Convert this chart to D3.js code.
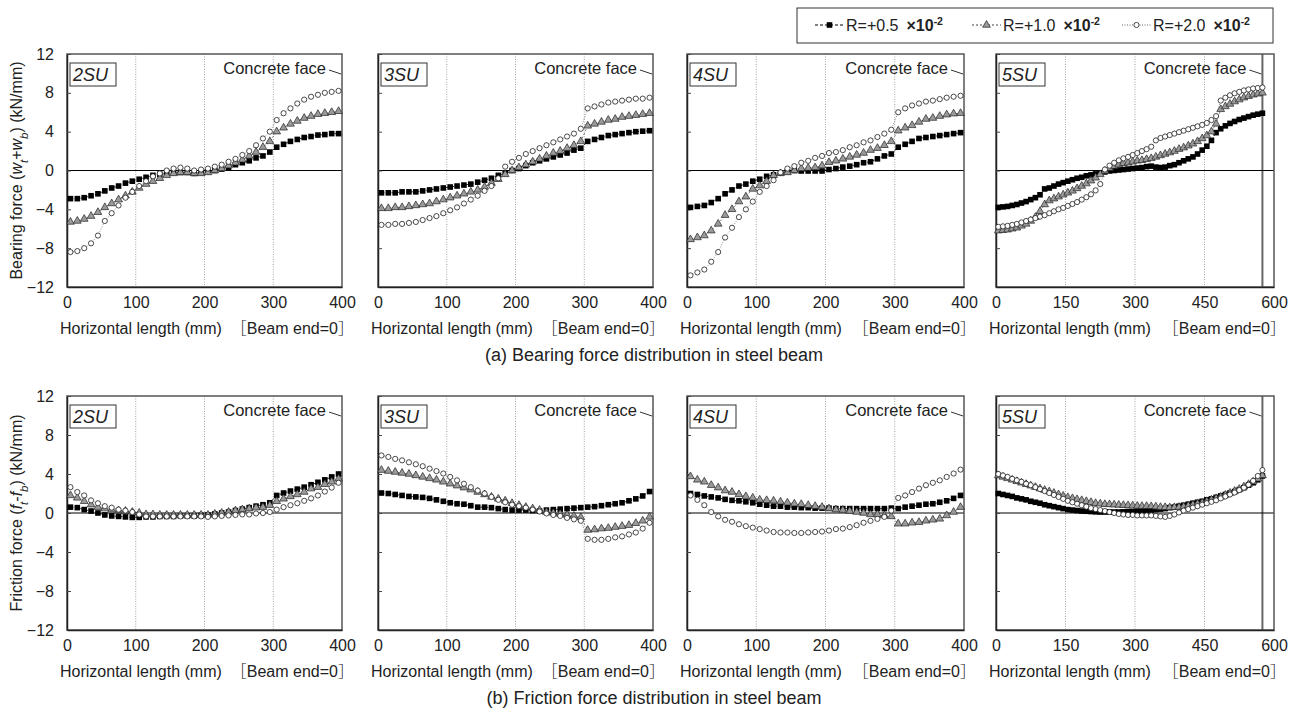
<!DOCTYPE html>
<html>
<head>
<meta charset="utf-8">
<script src="https://cdn.jsdelivr.net/npm/d3@7"></script>
<style>
  body { margin: 0; background: #fff; }
  svg { display: block; font-family: "Liberation Sans", Arial, sans-serif; }
</style>
</head>
<body>
<svg id="chart"></svg>
<script>
// ---- data ----
const X400 = [5,15,25,35,45,55,65,75,85,95,105,115,125,135,145,155,165,175,185,195,
  205,215,225,235,245,255,265,275,285,295,305,315,325,335,345,355,365,375,385,395];
const X600 = [5,15,25,35,45,55,65,75,85,95,105,115,125,135,145,155,165,175,185,195,
  205,215,225,235,245,255,265,275,285,295,305,315,325,335,345,355,365,375,385,395,
  405,415,425,435,445,455,465,475,485,495,505,515,525,535,545,555,565,575];

const SPECIMENS = ["2SU", "3SU", "4SU", "5SU"];
const SERIES_NAMES = ["R=+0.5", "R=+1.0", "R=+2.0"];
const TICKS_400 = [0, 100, 200, 300, 400];
const TICKS_600 = [0, 150, 300, 450, 600];
const Y_TICKS = [-12, -8, -4, 0, 4, 8, 12];

// (a) bearing force
const bear2SU_r05 = [-2.9,-2.9,-2.8,-2.6,-2.4,-2.1,-1.8,-1.6,-1.3,-1.1,-0.9,-0.7,-0.5,-0.4,-0.3,-0.2,-0.2,-0.2,-0.3,-0.2,
  -0.1,0,0.15,0.3,0.6,0.8,1.0,1.3,1.5,1.9,2.4,2.7,3.0,3.2,3.4,3.5,3.65,3.7,3.8,3.8];
const bear2SU_r10 = [-5.3,-5.2,-5.0,-4.7,-4.3,-3.8,-3.4,-3.0,-2.6,-2.2,-1.8,-1.4,-1.1,-0.8,-0.5,-0.3,-0.2,-0.2,-0.3,-0.3,
  -0.2,0,0.2,0.5,0.8,1.1,1.5,1.9,2.4,3.0,4.0,4.4,4.8,5.1,5.4,5.6,5.8,5.9,6.0,6.1];
const bear2SU_r20 = [-8.4,-8.3,-8.0,-7.5,-6.7,-5.2,-4.4,-3.6,-2.8,-2.2,-1.6,-1.1,-0.6,-0.3,0.0,0.2,0.3,0.2,0.0,0.1,
  0.2,0.4,0.6,0.9,1.2,1.6,2.0,2.6,3.3,4.0,5.2,5.9,6.4,6.9,7.3,7.6,7.8,8.0,8.1,8.2];
const bear3SU_r05 = [-2.3,-2.3,-2.3,-2.2,-2.2,-2.2,-2.1,-2.0,-1.9,-1.8,-1.7,-1.6,-1.5,-1.4,-1.2,-1.0,-0.8,-0.5,-0.3,0.0,
  0.2,0.5,0.8,1.0,1.2,1.4,1.6,1.8,2.1,2.3,3.0,3.2,3.4,3.6,3.7,3.8,3.9,4.0,4.05,4.1];
const bear3SU_r10 = [-3.9,-3.9,-3.8,-3.8,-3.7,-3.6,-3.5,-3.4,-3.2,-3.0,-2.8,-2.6,-2.4,-2.2,-2.0,-1.7,-1.3,-0.9,-0.4,0.0,
  0.3,0.6,0.9,1.2,1.5,1.8,2.0,2.3,2.6,3.0,4.6,4.8,5.0,5.2,5.3,5.5,5.6,5.7,5.8,5.9];
const bear3SU_r20 = [-5.6,-5.6,-5.5,-5.5,-5.4,-5.3,-5.1,-4.9,-4.7,-4.4,-4.1,-3.8,-3.4,-3.0,-2.6,-2.1,-1.6,-0.8,0.4,0.9,
  1.3,1.7,2.0,2.3,2.6,2.9,3.2,3.5,3.8,4.3,6.4,6.6,6.8,7.0,7.1,7.2,7.3,7.4,7.4,7.5];
const bear4SU_r05 = [-3.8,-3.7,-3.6,-3.3,-2.9,-2.4,-2.0,-1.6,-1.4,-1.1,-0.9,-0.6,-0.45,-0.25,-0.1,0,-0.05,-0.05,-0.05,-0.05,
  0.1,0.2,0.35,0.45,0.6,0.8,0.9,1.2,1.5,1.7,2.4,2.7,3.0,3.3,3.4,3.5,3.6,3.7,3.8,3.9];
const bear4SU_r10 = [-7.1,-6.9,-6.7,-6.2,-5.5,-4.6,-4.0,-3.2,-2.7,-1.9,-1.55,-1.1,-0.5,-0.3,-0.2,0,0.2,0.25,0.3,0.5,
  0.85,1.0,1.2,1.4,1.6,1.8,2.1,2.3,2.6,3.0,4.1,4.4,4.65,5.0,5.3,5.4,5.6,5.75,5.85,5.9];
const bear4SU_r20 = [-10.8,-10.5,-10.2,-9.4,-8.4,-6.9,-5.9,-4.8,-4.0,-3.2,-2.2,-1.6,-1.0,-0.2,0.2,0.45,0.8,1.0,1.3,1.5,
  1.8,1.9,2.1,2.4,2.6,2.9,3.1,3.45,3.8,4.2,6.0,6.4,6.7,6.9,7.1,7.2,7.35,7.5,7.6,7.7];
const bear5SU_r05 = [-3.8,-3.75,-3.7,-3.6,-3.5,-3.35,-3.2,-3.0,-2.8,-2.5,-1.9,-1.8,-1.6,-1.4,-1.25,-1.1,-0.95,-0.8,-0.7,-0.55,
  -0.45,-0.35,-0.25,-0.15,-0.05,0,0.05,0.1,0.15,0.2,0.25,0.3,0.4,0.45,0.35,0.3,0.35,0.5,0.6,0.8,
  1.0,1.2,1.4,1.7,2.1,2.5,3.1,3.9,4.3,4.6,4.85,5.05,5.25,5.4,5.55,5.7,5.8,5.9];
const bear5SU_r10 = [-6.2,-6.15,-6.1,-6.0,-5.9,-5.7,-5.5,-5.2,-4.8,-4.2,-3.5,-3.1,-2.9,-2.7,-2.5,-2.3,-2.1,-1.85,-1.6,-1.35,
  -1.05,-0.75,-0.4,-0.05,0.25,0.45,0.6,0.75,0.8,0.9,1.0,1.05,1.15,1.25,1.4,1.55,1.7,1.85,2.0,2.2,
  2.35,2.55,2.75,3.0,3.3,3.6,4.0,4.8,6.3,6.6,6.85,7.1,7.3,7.5,7.65,7.8,7.9,8.0];
const bear5SU_r20 = [-5.8,-5.75,-5.7,-5.6,-5.5,-5.35,-5.2,-5.05,-4.9,-4.75,-4.6,-4.4,-4.2,-4.0,-3.85,-3.65,-3.45,-3.25,-3.0,-2.75,
  -2.45,-2.05,-1.4,0.1,0.5,0.8,1.05,1.25,1.4,1.6,1.8,2.0,2.2,2.45,3.1,3.35,3.5,3.65,3.8,3.95,
  4.1,4.25,4.4,4.55,4.7,4.9,5.2,5.6,7.2,7.5,7.75,7.95,8.1,8.25,8.35,8.45,8.5,8.55];

// (b) friction force
const fric2SU_r05 = [0.6,0.55,0.35,0.2,0.0,-0.2,-0.3,-0.35,-0.4,-0.45,-0.45,-0.4,-0.4,-0.35,-0.35,-0.35,-0.3,-0.3,-0.3,-0.25,
  -0.2,-0.1,0,0.1,0.25,0.4,0.55,0.7,0.85,1.05,1.8,2.05,2.25,2.45,2.65,2.9,3.15,3.4,3.7,4.0];
const fric2SU_r10 = [1.8,1.55,1.2,0.85,0.6,0.45,0.35,0.25,0.2,0.1,0,-0.15,-0.15,-0.2,-0.2,-0.2,-0.2,-0.2,-0.2,-0.2,
  -0.2,-0.1,0,0.1,0.25,0.35,0.45,0.55,0.6,0.8,1.2,1.45,1.7,1.9,2.15,2.5,2.65,2.95,3.2,3.5];
const fric2SU_r20 = [2.65,2.15,1.8,1.3,1.0,0.7,0.55,0.35,0.25,0.1,-0.15,-0.35,-0.35,-0.35,-0.35,-0.35,-0.35,-0.35,-0.35,-0.35,
  -0.4,-0.35,-0.3,-0.25,-0.2,-0.15,-0.15,-0.05,0,0.1,0.35,0.6,0.8,1.0,1.25,1.5,1.8,2.2,2.6,3.1];
const fric3SU_r05 = [2.05,2.0,1.9,1.8,1.7,1.65,1.6,1.5,1.35,1.2,1.05,0.95,0.9,0.75,0.6,0.6,0.55,0.45,0.35,0.3,
  0.3,0.3,0.25,0.2,0.3,0.35,0.4,0.45,0.5,0.55,0.6,0.65,0.75,0.85,0.95,1.05,1.25,1.45,1.75,2.2];
const fric3SU_r10 = [4.4,4.3,4.2,4.1,4.0,3.85,3.7,3.55,3.4,3.2,3.0,2.8,2.6,2.4,2.15,1.9,1.65,1.45,1.25,1.0,
  0.8,0.6,0.45,0.3,0.1,0,-0.1,-0.2,-0.3,-0.45,-1.75,-1.7,-1.6,-1.55,-1.45,-1.35,-1.25,-1.05,-0.8,-0.4];
const fric3SU_r20 = [5.9,5.75,5.55,5.4,5.2,5.0,4.8,4.55,4.3,4.05,3.7,3.35,3.0,2.65,2.3,2.0,1.65,1.35,1.1,0.85,
  0.7,0.55,0.35,0.15,-0.05,-0.2,-0.3,-0.5,-0.65,-0.8,-2.65,-2.75,-2.75,-2.65,-2.5,-2.4,-2.2,-2.0,-1.6,-1.0];
const fric4SU_r05 = [2.0,1.9,1.75,1.65,1.55,1.4,1.3,1.25,1.15,1.05,0.9,0.8,0.7,0.7,0.6,0.6,0.55,0.55,0.5,0.5,
  0.5,0.45,0.45,0.45,0.45,0.45,0.45,0.45,0.45,0.5,0.45,0.6,0.7,0.8,0.9,0.95,1.1,1.25,1.5,1.8];
const fric4SU_r10 = [3.75,3.4,3.2,2.85,2.6,2.3,2.15,1.9,1.7,1.55,1.35,1.3,1.25,1.15,1.05,0.95,0.9,0.8,0.7,0.6,
  0.45,0.35,0.3,0.2,0.1,0,-0.15,-0.15,-0.25,-0.35,-1.1,-1.1,-1.0,-0.95,-0.8,-0.7,-0.6,-0.25,0.1,0.6];
const fric4SU_r20 = [1.8,1.35,0.8,0.1,-0.35,-0.7,-0.9,-1.15,-1.35,-1.5,-1.65,-1.8,-1.95,-2.0,-2.0,-2.05,-2.05,-2.0,-1.95,-1.9,
  -1.8,-1.65,-1.6,-1.45,-1.25,-1.0,-0.8,-0.6,-0.4,0.25,1.55,1.8,2.15,2.5,2.85,3.1,3.35,3.7,4.05,4.45];
const fric5SU_r05 = [2.0,1.9,1.8,1.7,1.55,1.45,1.35,1.2,1.1,1.0,0.85,0.75,0.65,0.55,0.45,0.35,0.3,0.25,0.2,0.18,
  0.15,0.12,0.1,0.1,0.1,0.1,0.1,0.12,0.15,0.15,0.2,0.22,0.25,0.3,0.35,0.4,0.45,0.55,0.6,0.7,
  0.8,0.9,1.0,1.1,1.2,1.35,1.45,1.6,1.75,1.9,2.05,2.2,2.4,2.6,2.85,3.1,3.4,3.8];
const fric5SU_r10 = [3.85,3.7,3.55,3.4,3.25,3.1,2.95,2.8,2.65,2.5,2.35,2.2,2.05,1.9,1.75,1.6,1.5,1.4,1.3,1.2,
  1.1,1.0,0.95,0.9,0.88,0.85,0.82,0.8,0.78,0.75,0.72,0.7,0.7,0.68,0.65,0.6,0.58,0.56,0.58,0.6,
  0.65,0.75,0.85,0.95,1.05,1.2,1.35,1.5,1.65,1.85,2.05,2.25,2.45,2.7,2.95,3.2,3.5,3.85];
const fric5SU_r20 = [4.0,3.85,3.7,3.5,3.35,3.2,3.0,2.85,2.65,2.45,2.25,2.05,1.85,1.65,1.45,1.25,1.1,0.95,0.8,0.65,
  0.5,0.4,0.3,0.2,0.1,0.0,-0.1,-0.15,-0.2,-0.2,-0.25,-0.25,-0.25,-0.25,-0.3,-0.35,-0.4,-0.3,-0.15,0.05,
  0.25,0.4,0.55,0.7,0.85,1.0,1.15,1.3,1.5,1.7,1.9,2.1,2.35,2.6,2.9,3.3,3.8,4.4];

const BEARING = [
  [bear2SU_r05, bear2SU_r10, bear2SU_r20],
  [bear3SU_r05, bear3SU_r10, bear3SU_r20],
  [bear4SU_r05, bear4SU_r10, bear4SU_r20],
  [bear5SU_r05, bear5SU_r10, bear5SU_r20]
];
const FRICTION = [
  [fric2SU_r05, fric2SU_r10, fric2SU_r20],
  [fric3SU_r05, fric3SU_r10, fric3SU_r20],
  [fric4SU_r05, fric4SU_r10, fric4SU_r20],
  [fric5SU_r05, fric5SU_r10, fric5SU_r20]
];

/*
 * Layout constants
 */
const SVG_WIDTH = 1294;
const SVG_HEIGHT = 717;
const PANEL_X = [[67, 342], [378, 653], [687, 964], [996, 1274]];
const ROWS = [
  { top: 54, bottom: 287, data: BEARING, title: "(a) Bearing force distribution in steel beam",
    yTitle: ["Bearing force (", "w", "t", "+", "w", "b", ") (kN/mm)"] },
  { top: 396, bottom: 630, data: FRICTION, title: "(b) Friction force distribution in steel beam",
    yTitle: ["Friction force (", "f", "t", "-", "f", "b", ") (kN/mm)"] }
];
const FACE_5SU = 575;
const TEXT_COLOR = "#222";
const CJK_FONT = "Noto Sans CJK JP";

const svg = d3.select("#chart")
  .attr("width", SVG_WIDTH)
  .attr("height", SVG_HEIGHT);

// markers for one series
function drawMarkers(g, pts, kind) {
  if (kind === 0) {
    g.selectAll(null).data(pts).enter().append("rect")
      .attr("x", d => d[0] - 2.8).attr("y", d => d[1] - 2.8)
      .attr("width", 5.6).attr("height", 5.6)
      .attr("fill", "#000");
  } else if (kind === 1) {
    const tri = d3.symbol().type(d3.symbolTriangle).size(26);
    g.selectAll(null).data(pts).enter().append("path")
      .attr("d", tri)
      .attr("transform", d => `translate(${d[0]},${d[1]})`)
      .attr("fill", "#9a9a9a")
      .attr("stroke", "#222")
      .attr("stroke-width", 0.7);
  } else {
    g.selectAll(null).data(pts).enter().append("circle")
      .attr("cx", d => d[0]).attr("cy", d => d[1])
      .attr("r", 2.6)
      .attr("fill", "#fff")
      .attr("stroke", "#111")
      .attr("stroke-width", 0.75);
  }
}

const LINE_STYLE = [
  { stroke: "#000", dash: "3,2", w: 0.8 },
  { stroke: "#444", dash: "2,2", w: 0.7 },
  { stroke: "#666", dash: "1,1.5", w: 0.7 }
];

// draw one series: connecting line + markers
function drawSeries(g, xVals, yVals, x, y, kind) {
  const pts = xVals.map((v, i) => [x(v), y(yVals[i])]);
  const st = LINE_STYLE[kind];
  g.append("path")
    .attr("d", d3.line()(pts))
    .attr("fill", "none")
    .attr("stroke", st.stroke)
    .attr("stroke-width", st.w)
    .attr("stroke-dasharray", st.dash);
  drawMarkers(g, pts, kind);
}

ROWS.forEach((row) => {
  const y = d3.scaleLinear().domain([-12, 12]).range([row.bottom, row.top]);

  SPECIMENS.forEach((name, pi) => {
    const is5 = name === "5SU";
    const [left, right] = PANEL_X[pi];
    const x = d3.scaleLinear().domain([0, is5 ? 600 : 400]).range([left, right]);
    const ticks = is5 ? TICKS_600 : TICKS_400;
    const xVals = is5 ? X600 : X400;
    const g = svg.append("g");

    // dotted vertical grid
    g.selectAll(null).data(ticks.slice(1, -1)).enter().append("line")
      .attr("x1", d => x(d)).attr("x2", d => x(d))
      .attr("y1", row.top).attr("y2", row.bottom)
      .attr("stroke", "#a0a0a0")
      .attr("stroke-width", 1)
      .attr("stroke-dasharray", "1,1.5");

    // concrete face line for 5SU
    if (is5) {
      g.append("line")
        .attr("x1", x(FACE_5SU)).attr("x2", x(FACE_5SU))
        .attr("y1", row.top).attr("y2", row.bottom)
        .attr("stroke", "#666").attr("stroke-width", 2);
    }

    // zero line
    g.append("line")
      .attr("x1", left).attr("x2", right)
      .attr("y1", y(0)).attr("y2", y(0))
      .attr("stroke", "#000").attr("stroke-width", 1.2);

    // frame
    g.append("rect")
      .attr("x", left).attr("y", row.top)
      .attr("width", right - left).attr("height", row.bottom - row.top)
      .attr("fill", "none").attr("stroke", "#555").attr("stroke-width", 1.5);

    // y axis (inward ticks, labels on first panel only)
    const yAxis = d3.axisLeft(y).tickValues(Y_TICKS).tickSizeInner(-4).tickSizeOuter(0).tickPadding(13);
    if (pi > 0) yAxis.tickFormat("");
    const ya = g.append("g").attr("transform", `translate(${left},0)`).call(yAxis);
    ya.select(".domain").attr("stroke", "#222").attr("stroke-width", 1.5);
    ya.selectAll(".tick line").attr("stroke", "#444");
    ya.selectAll("text").attr("font-size", 16).attr("fill", TEXT_COLOR)
      .attr("font-family", "Liberation Sans, Arial, sans-serif");

    // x axis
    const xAxis = d3.axisBottom(x).tickValues(ticks).tickSize(0).tickPadding(10).tickFormat(d3.format("d"));
    const xa = g.append("g").attr("transform", `translate(0,${row.bottom})`).call(xAxis);
    xa.select(".domain").attr("stroke", "#222").attr("stroke-width", 1.5);
    xa.selectAll("text").attr("font-size", 16).attr("fill", TEXT_COLOR)
      .attr("font-family", "Liberation Sans, Arial, sans-serif");

    // x axis caption
    g.append("text")
      .attr("x", left - 7).attr("y", row.bottom + 47)
      .attr("font-size", 16).attr("fill", TEXT_COLOR)
      .text("Horizontal length (mm)");
    const be = g.append("text")
      .attr("x", right + 12).attr("y", row.bottom + 47)
      .attr("text-anchor", "end")
      .attr("font-size", 16).attr("fill", TEXT_COLOR);
    be.append("tspan").attr("font-family", CJK_FONT).attr("font-weight", 300).text("［");
    be.append("tspan").text("Beam end=0");
    be.append("tspan").attr("font-family", CJK_FONT).attr("font-weight", 300).text("］");

    // series
    row.data[pi].forEach((vals, si) => drawSeries(g, xVals, vals, x, y, si));

    // specimen label box
    g.append("rect")
      .attr("x", left + 3).attr("y", row.top + 9)
      .attr("width", 46).attr("height", 23)
      .attr("fill", "#fff").attr("stroke", "#333").attr("stroke-width", 1);
    g.append("text")
      .attr("x", left + 6).attr("y", row.top + 27)
      .attr("font-size", 18).attr("font-style", "italic").attr("fill", TEXT_COLOR)
      .text(name);

    // concrete face annotation
    const faceX = is5 ? x(FACE_5SU) : right;
    g.append("text")
      .attr("x", faceX - 16).attr("y", row.top + 20)
      .attr("text-anchor", "end")
      .attr("font-size", 16.5).attr("fill", TEXT_COLOR)
      .text("Concrete face");
    g.append("line")
      .attr("x1", faceX - 13).attr("y1", row.top + 16)
      .attr("x2", faceX - 1).attr("y2", row.top + 20)
      .attr("stroke", "#333").attr("stroke-width", 1);
  });

  // y title
  const yt = svg.append("text")
    .attr("transform", `translate(22,${(row.top + row.bottom) / 2}) rotate(-90)`)
    .attr("text-anchor", "middle")
    .attr("font-size", 16).attr("fill", TEXT_COLOR);
  const parts = row.yTitle;
  yt.append("tspan").text(parts[0]);
  yt.append("tspan").attr("font-style", "italic").text(parts[1]);
  yt.append("tspan").attr("font-size", 11.5).attr("baseline-shift", "sub").attr("font-style", "italic").text(parts[2]);
  yt.append("tspan").text(parts[3]);
  yt.append("tspan").attr("font-style", "italic").text(parts[4]);
  yt.append("tspan").attr("font-size", 11.5).attr("baseline-shift", "sub").attr("font-style", "italic").text(parts[5]);
  yt.append("tspan").text(parts[6]);

  // row caption
  svg.append("text")
    .attr("x", 654).attr("y", row.bottom + 74)
    .attr("text-anchor", "middle")
    .attr("font-size", 18).attr("fill", TEXT_COLOR)
    .text(row.title);
});

// legend
const legend = svg.append("g");
legend.append("rect")
  .attr("x", 797).attr("y", 8).attr("width", 476).attr("height", 35)
  .attr("fill", "#fff").attr("stroke", "#333").attr("stroke-width", 1);

const LEGEND_X = [815, 972, 1122];
SERIES_NAMES.forEach((label, si) => {
  const lx = LEGEND_X[si];
  const ly = 25;
  const lg = legend.append("g");
  const st = LINE_STYLE[si];
  lg.append("line")
    .attr("x1", lx).attr("x2", lx + 29).attr("y1", ly).attr("y2", ly)
    .attr("stroke", st.stroke).attr("stroke-width", 1).attr("stroke-dasharray", st.dash);
  drawMarkers(lg, [[lx + 14.5, ly]], si);
  const t = lg.append("text").attr("x", lx + 31).attr("y", ly + 5.5)
    .attr("font-size", 16).attr("fill", TEXT_COLOR);
  t.append("tspan").text(label);
  t.append("tspan").attr("dx", 8).attr("font-weight", "bold").text("×10");
  t.append("tspan").attr("font-size", 10.5).attr("font-weight", "bold").attr("dy", -6).text("-2");
});
</script>
</body>
</html>
